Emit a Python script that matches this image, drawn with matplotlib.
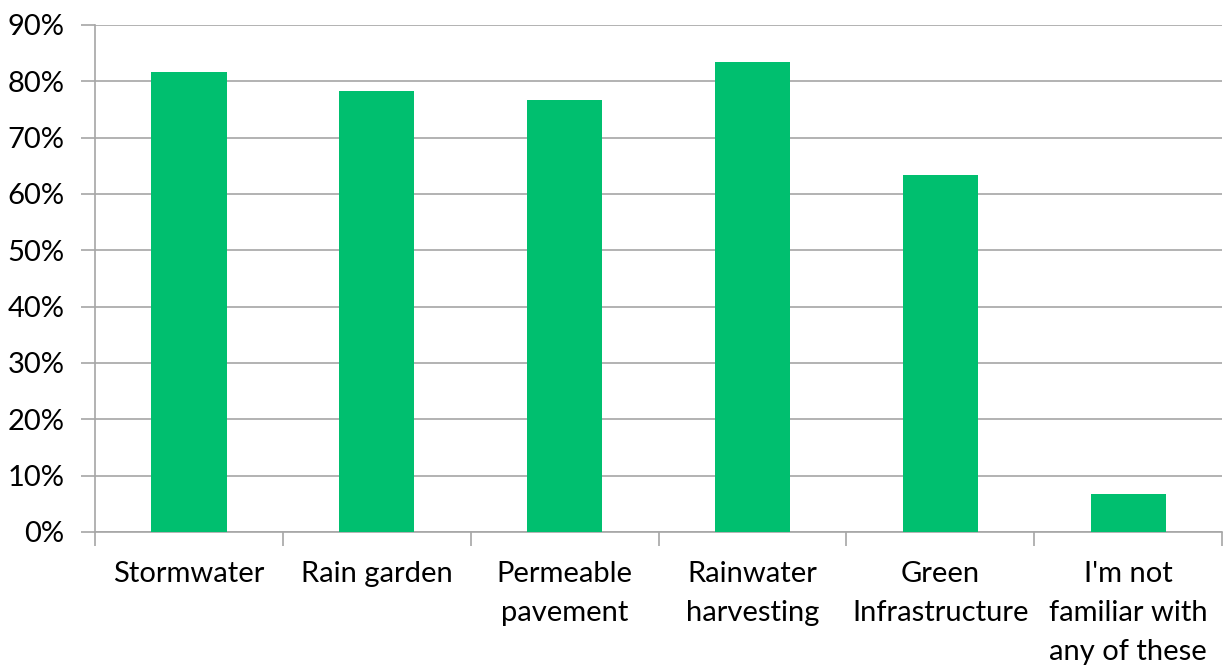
import numpy as np
import matplotlib.pyplot as plt
from matplotlib.ticker import PercentFormatter, FixedLocator

plt.rcParams["font.family"] = ["Lato", "DejaVu Sans"]

categories = [
    "Stormwater",
    "Rain garden",
    "Permeable\npavement",
    "Rainwater\nharvesting",
    "Green\nInfrastructure",
    "I'm not\nfamiliar with\nany of these",
]
values = [81.7, 78.3, 76.7, 83.4, 63.4, 6.7]

fig = plt.figure(figsize=(12.25, 6.68), dpi=100)
ax = fig.add_axes([0.0776, 0.2036, 0.92, 0.759])

x = np.arange(len(categories))
ax.bar(x, values, width=0.4, color="#00BF6F", zorder=3)

ax.set_xlim(-0.5, len(categories) - 0.5)
ax.set_ylim(0, 90)
ax.set_yticks(np.arange(0, 91, 10))
ax.yaxis.set_major_formatter(PercentFormatter(decimals=0))
ax.grid(axis="y", color="#A6A6A6", linewidth=1.2, zorder=0)

ax.set_xticks(x)
ax.set_xticklabels(categories, fontsize=21, linespacing=1.62)
ax.tick_params(axis="x", which="major", length=0, pad=21)
ax.xaxis.set_minor_locator(FixedLocator(np.arange(-0.5, len(categories), 1)))
ax.tick_params(axis="x", which="minor", length=10, width=1.2, color="#A6A6A6")
ax.tick_params(axis="y", length=10, width=1.2, color="#A6A6A6", labelsize=21, pad=12)

for side in ["top", "right"]:
    ax.spines[side].set_visible(False)
for side in ["left", "bottom"]:
    ax.spines[side].set_color("#A6A6A6")
    ax.spines[side].set_linewidth(1.2)

fig.savefig("out.png", dpi=100)
